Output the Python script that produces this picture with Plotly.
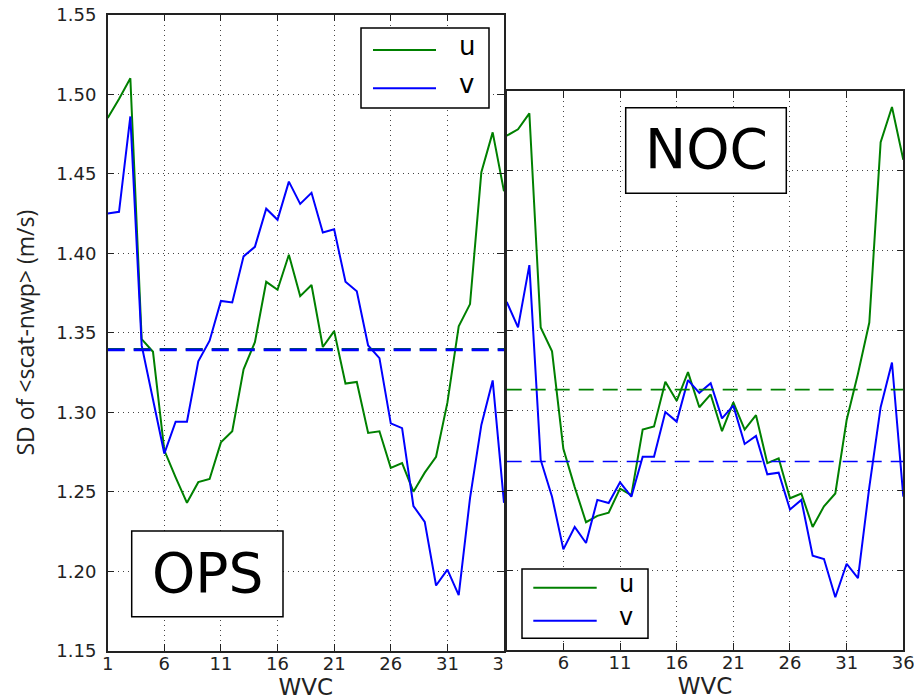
import plotly.graph_objects as go

W, H = 914, 700

# ---------------- data ----------------
wvc = list(range(1, 37))

ops_u = [1.485, 1.497, 1.510, 1.346, 1.338, 1.276, 1.259, 1.243, 1.256, 1.258,
         1.281, 1.288, 1.327, 1.344, 1.382, 1.377, 1.399, 1.373, 1.380, 1.341,
         1.351, 1.318, 1.319, 1.287, 1.288, 1.265, 1.268, 1.250, 1.262, 1.272,
         1.306, 1.354, 1.368, 1.451, 1.476, 1.439]
ops_v = [1.425, 1.426, 1.486, 1.342, 1.308, 1.274, 1.294, 1.294, 1.332, 1.345,
         1.370, 1.369, 1.398, 1.404, 1.428, 1.421, 1.445, 1.431, 1.438, 1.413,
         1.415, 1.382, 1.376, 1.342, 1.334, 1.293, 1.290, 1.241, 1.231, 1.191,
         1.201, 1.185, 1.246, 1.292, 1.320, 1.243]
ops_u_mean = 1.3396
ops_v_mean = 1.3392

noc_u = [1.472, 1.476, 1.486, 1.352, 1.337, 1.276, 1.252, 1.230, 1.234, 1.236,
         1.251, 1.247, 1.288, 1.290, 1.318, 1.306, 1.324, 1.302, 1.310, 1.287,
         1.305, 1.288, 1.297, 1.267, 1.270, 1.245, 1.248, 1.227, 1.240, 1.248,
         1.294, 1.323, 1.355, 1.468, 1.490, 1.457]
noc_v = [1.368, 1.352, 1.391, 1.269, 1.246, 1.213, 1.227, 1.217, 1.244, 1.242,
         1.255, 1.246, 1.271, 1.271, 1.299, 1.293, 1.319, 1.311, 1.317, 1.295,
         1.303, 1.279, 1.284, 1.260, 1.261, 1.238, 1.244, 1.209, 1.207, 1.183,
         1.204, 1.195, 1.252, 1.302, 1.330, 1.246]
noc_u_mean = 1.313
noc_v_mean = 1.268

x_ticks = [1, 6, 11, 16, 21, 26, 31, 36]
ops_y_ticks = [1.15, 1.20, 1.25, 1.30, 1.35, 1.40, 1.45, 1.50, 1.55]
noc_y_ticks = [1.15, 1.20, 1.25, 1.30, 1.35, 1.40, 1.45, 1.50]
series_names = ["u", "v"]
panel_labels = ["OPS", "NOC"]
x_title = "WVC"
y_title = "SD of &lt;scat-nwp&gt; (m/s)"

# ---------------- style ----------------
GREEN = "#008000"
BLUE = "#0000ff"
COLORS = [GREEN, BLUE]
AX = "#222222"
FONT = "DejaVu Sans"


def X(p):
    return p / W


def Y(p):
    return 1 - p / H


fig = go.Figure()

# left panel (OPS)
for vals, c in zip([ops_u, ops_v], COLORS):
    fig.add_trace(go.Scatter(x=wvc, y=vals, mode="lines", line=dict(color=c, width=2),
                             xaxis="x", yaxis="y", showlegend=False))
for m, c in zip([ops_u_mean, ops_v_mean], COLORS):
    fig.add_trace(go.Scatter(x=[wvc[0], wvc[-1]], y=[m, m], mode="lines",
                             line=dict(color=c, width=2.6, dash="17px,9px"),
                             xaxis="x", yaxis="y", showlegend=False, hoverinfo="skip"))

# right panel (NOC)
for vals, c in zip([noc_u, noc_v], COLORS):
    fig.add_trace(go.Scatter(x=wvc, y=vals, mode="lines", line=dict(color=c, width=2),
                             xaxis="x2", yaxis="y2", showlegend=False))
for m, c in zip([noc_u_mean, noc_v_mean], COLORS):
    fig.add_trace(go.Scatter(x=[wvc[0], wvc[-1]], y=[m, m], mode="lines",
                             line=dict(color=c, width=1.6, dash="15px,9px"),
                             xaxis="x2", yaxis="y2", showlegend=False, hoverinfo="skip"))

common = dict(showline=True, linecolor=AX, linewidth=1.5, mirror="ticks",
              ticks="inside", ticklen=7, tickwidth=1, tickcolor=AX,
              showgrid=True, gridcolor="#444444", gridwidth=1, griddash="1px,4px",
              zeroline=False, automargin=False, ticklabeloverflow="allow",
              tickfont=dict(family=FONT, size=18, color=AX))

fig.update_layout(
    width=W, height=H, template="none",
    margin=dict(l=0, r=0, t=0, b=0),
    paper_bgcolor="white", plot_bgcolor="white",
    showlegend=False,
    xaxis=dict(domain=[X(107.7), X(504)], range=[1, 36], anchor="y",
               tickvals=x_ticks, ticklabelstandoff=-4,
               title=dict(text=x_title, font=dict(family=FONT, size=23, color=AX), standoff=11),
               **common),
    yaxis=dict(domain=[Y(650.7), Y(14.7)], range=[1.15, 1.55], anchor="x",
               tickvals=ops_y_ticks, tickformat=".2f", ticklabelstandoff=6,
               title=dict(text=y_title, font=dict(family="Open Sans", size=23, color=AX), standoff=15),
               **common),
    xaxis2=dict(domain=[X(506.7), X(903.3)], range=[1, 36], anchor="y2",
                tickvals=x_ticks, ticktext=[""] + [str(t) for t in x_ticks[1:]],
                ticklabelstandoff=-4,
                title=dict(text=x_title, font=dict(family=FONT, size=23, color=AX), standoff=4),
                **common),
    yaxis2=dict(domain=[Y(650), Y(91)], range=[1.15, 1.50], anchor="x2",
                tickvals=noc_y_ticks, showticklabels=False, **common),
)

shapes = []
annotations = []


def box(x0, y0, x1, y1, lw=1.5):
    shapes.append(dict(type="rect", xref="paper", yref="paper",
                       x0=X(x0), x1=X(x1), y0=Y(y1), y1=Y(y0),
                       line=dict(color="black", width=lw), fillcolor="white", layer="above"))


# hide the clipped part of the left panel's last x tick label (covered by the right panel)
shapes.append(dict(type="rect", xref="paper", yref="paper",
                   x0=X(502.5), x1=X(520), y0=Y(676), y1=Y(653),
                   line=dict(width=0), fillcolor="white", layer="above"))

# panel label boxes
for lab, (bx0, by0, bx1, by1) in zip(panel_labels, [(131.7, 531, 283, 616.7),
                                                    (625.7, 107.7, 786.3, 193.3)]):
    box(bx0, by0, bx1, by1)
    annotations.append(dict(text=lab, xref="paper", yref="paper",
                            x=X((bx0 + bx1) / 2), y=Y((by0 + by1) / 2 - 1),
                            xanchor="center", yanchor="middle", showarrow=False,
                            font=dict(family=FONT, size=55, color="black")))

# legends (drawn manually to match long line samples)
legend_specs = [
    dict(box=(361, 28, 489, 108), lx=(373, 436), ly=[50, 88.3], tx=467, fs=26),
    dict(box=(522, 569, 648, 638.3), lx=(533.3, 596.7), ly=[587.7, 620.7], tx=626, fs=24),
]
for spec in legend_specs:
    box(*spec["box"])
    for name, c, yy in zip(series_names, COLORS, spec["ly"]):
        shapes.append(dict(type="line", xref="paper", yref="paper",
                           x0=X(spec["lx"][0]), x1=X(spec["lx"][1]), y0=Y(yy), y1=Y(yy),
                           line=dict(color=c, width=2), layer="above"))
        annotations.append(dict(text=name, xref="paper", yref="paper",
                                x=X(spec["tx"]), y=Y(yy - 4), xanchor="center", yanchor="middle",
                                showarrow=False, font=dict(family=FONT, size=spec["fs"], color="black")))

fig.update_layout(shapes=shapes, annotations=annotations)

fig.write_html("out.html")
